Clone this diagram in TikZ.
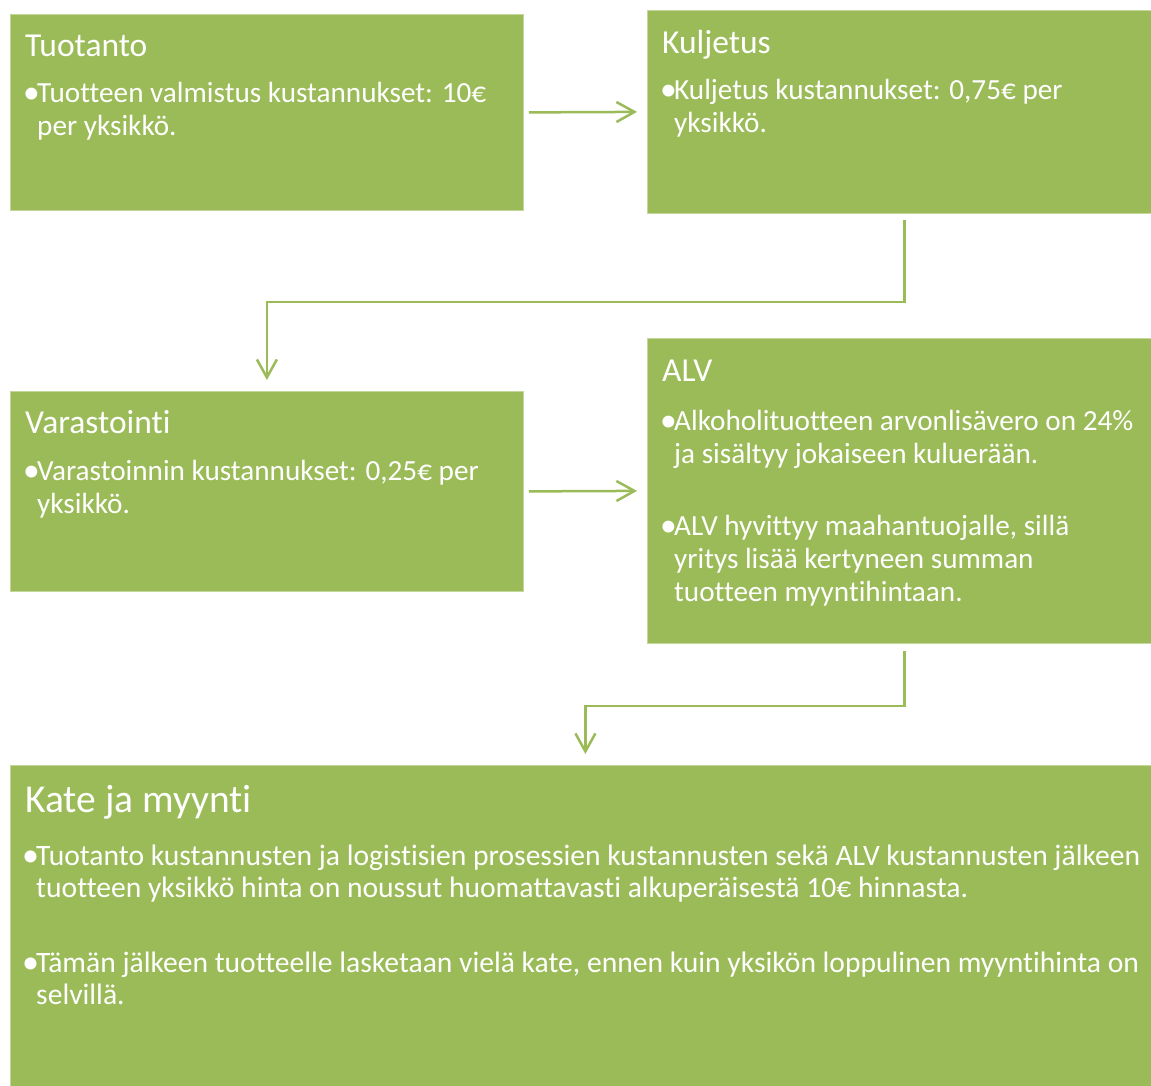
\documentclass[tikz,border=0pt]{standalone}
\usepackage{fontspec}
\setmainfont{Carlito}[Ligatures={NoCommon}]
\usetikzlibrary{arrows.meta}
\definecolor{grn}{HTML}{9BBB59}
\newcommand{\myblt}{\makebox[14pt][l]{\raisebox{-1pt}{\scalebox{1.15}{•}}}}
\newcommand{\myind}{\hspace*{14pt}}
\begin{document}
\begin{tikzpicture}[x=1pt,y=-1pt,
  box/.style={rectangle, anchor=north west, inner sep=0pt, fill=grn, draw=grn!60!white, line width=0.8pt},
  ttl/.style={anchor=base west, inner sep=0pt, text=white, font=\fontsize{33.5}{40}\selectfont},
  bigttl/.style={anchor=base west, inner sep=0pt, text=white, font=\fontsize{39.5}{46}\selectfont},
  bdy/.style={anchor=base west, inner sep=0pt, text=white, align=left, font=\fontsize{29.2}{33}\selectfont},
  bigbdy/.style={bdy, font=\fontsize{29.6}{32}\selectfont},
  arr/.style={draw=grn, line width=2.5pt, -{Straight Barb[length=18pt,width=20pt,line width=2.5pt]}}]
\fill[white] (0,0) rectangle (1151,1086);
\useasboundingbox (0,0) rectangle (1151,1086);
% boxes
\node[box, minimum width=513pt, minimum height=196pt] (tuo) at (10,14) {};
\node[box, minimum width=504pt, minimum height=203pt] (kul) at (647,10) {};
\node[box, minimum width=513pt, minimum height=200pt] (var) at (10,391) {};
\node[box, minimum width=504pt, minimum height=305pt] (alv) at (647,338) {};
\node[box, minimum width=1141pt, minimum height=321pt] (kate) at (10,765) {};
% texts (base = baseline of last line)
\node[ttl] (tuoT) at (25,57) {Tuotanto};
\node[bdy] (tuoB) at (23,136) {\myblt Tuotteen valmistus kustannukset: 10€\\ \myind per yksikkö.};
\node[ttl] (kulT) at (662,54) {Kuljetus};
\node[bdy] (kulB) at (660,133) {\myblt Kuljetus kustannukset: 0,75€ per\\ \myind yksikkö.};
\node[ttl] (varT) at (25,433) {Varastointi};
\node[bdy] (varB) at (23,513) {\myblt Varastoinnin kustannukset: 0,25€ per\\ \myind yksikkö.};
\node[ttl] (alvT) at (662,381) {ALV};
\node[bdy] (alvB) at (660,601) {\myblt Alkoholituotteen arvonlisävero on 24\%\\ \myind ja sisältyy jokaiseen kuluerään.\\[39pt]
  \myblt ALV hyvittyy maahantuojalle, sillä\\ \myind yritys lisää kertyneen summan\\ \myind tuotteen myyntihintaan.};
\node[bigttl] (kateT) at (25,812) {Kate ja myynti};
\node[bigbdy] (kateB) at (22,1004) {\myblt Tuotanto kustannusten ja logistisien prosessien kustannusten sekä ALV kustannusten jälkeen\\ \myind tuotteen yksikkö hinta on noussut huomattavasti alkuperäisestä 10€ hinnasta.\\[43pt]
  \myblt Tämän jälkeen tuotteelle lasketaan vielä kate, ennen kuin yksikön loppulinen myyntihinta on\\ \myind selvillä.};
% connectors
\draw[arr] ([xshift=5pt]tuo.east) -- ([xshift=-10pt]kul.west);
\coordinate (k1) at ([shift={(5pt,-6pt)}]kul.south);
\coordinate (v1) at ([yshift=11pt]var.north);
\draw[arr] (k1) -- ++(0pt,-82pt) -| (v1);
\draw[arr] ([xshift=5pt]var.east) -- ([xshift=-10pt]alv.west);
\coordinate (a1) at ([shift={(5pt,-7pt)}]alv.south);
\coordinate (kt1) at ([shift={(4.5pt,11pt)}]kate.north);
\draw[arr] (a1) -- ++(0pt,-55pt) -| (kt1);
\end{tikzpicture}
\end{document}
